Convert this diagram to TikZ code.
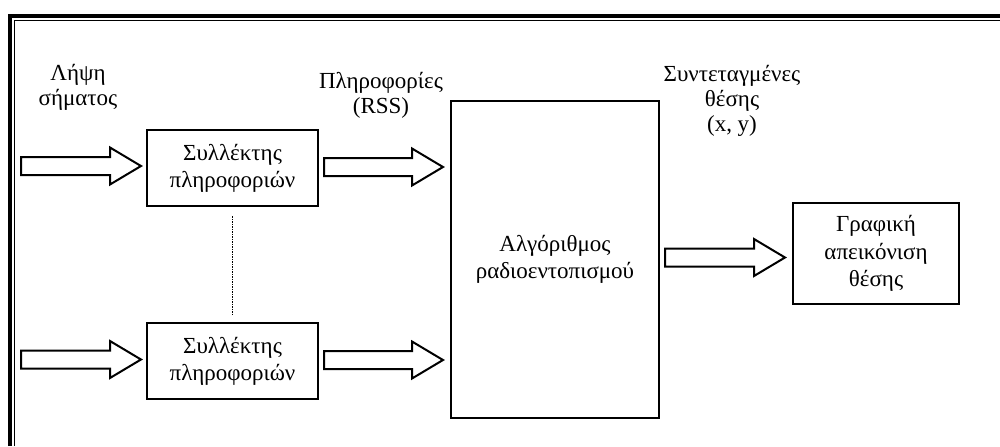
\documentclass[tikz,border=0pt]{standalone}
\usepackage{fontspec}
\setmainfont{Liberation Serif}
\usetikzlibrary{calc}
\tikzset{
  box/.style={draw, line width=1pt, align=center, inner sep=0pt,
    font=\fontsize{11.5pt}{13.6pt}\selectfont},
  lbl/.style={align=center, inner sep=0pt,
    font=\fontsize{11.5pt}{12.4pt}\selectfont},
  barrow/.style={draw, line width=1pt, fill=white, line join=miter},
  dotline/.style={line width=0.8pt, dash pattern=on 0.75pt off 0.5pt},
  frameouter/.style={line width=2.25pt, line join=miter},
  frameinner/.style={line width=0.6pt, line join=miter},
}
% hollow block arrow: from a start point to the x of a tip point, at the start's height
\newcommand\blockarrow[2]{%
  \path[barrow] let \p1=#1, \p2=#2 in
    (\x1,\y1+4.5pt) -- (\x2-15.5pt,\y1+4.5pt) -- (\x2-15.5pt,\y1+9.25pt)
    -- (\x2,\y1) -- (\x2-15.5pt,\y1-9.25pt) -- (\x2-15.5pt,\y1-4.5pt)
    -- (\x1,\y1-4.5pt) -- cycle;}
\begin{document}
\begin{tikzpicture}[x=0.5pt,y=-0.5pt]
\useasboundingbox (0,0) rectangle (1000,446);

% double frame on the top and left sides
\draw[frameouter] (10,446) -- (10,16) -- (1000,16);
\draw[frameinner] (14.5,446) -- (14.5,20.5) -- (1000,20.5);

% blocks
\node[box, minimum width=85.5pt, minimum height=38pt] (c1) at (232.5,168)
  {Συλλέκτης\\πληροφοριών};
\node[box, minimum width=85.5pt, minimum height=38pt] (c2) at (232.5,361)
  {Συλλέκτης\\πληροφοριών};
\node[box, minimum width=104pt, minimum height=158.5pt] (alg) at (555,259.5)
  {Αλγόριθμος\\ραδιοεντοπισμού};
\node[box, minimum width=83pt, minimum height=50.5pt] (gfx) at (876,253.5)
  {Γραφική\\απεικόνιση\\θέσης};

% labels
\node[lbl] (lrx) at (78,87) {Λήψη\\σήματος};
\node[lbl] (linfo) at (381,95) {Πληροφορίες\\(RSS)};
\node[lbl] (lpos) at (732,101) {Συντεταγμένες\\θέσης\\(x, y)};

% free ends of the incoming arrows
\coordinate (in1) at (21,166);
\coordinate (in2) at (21,359.5);

% connectors
\draw[dotline] ([yshift=-4.5pt]c1.south) -- ([yshift=4pt]c2.north);
\blockarrow{(in1)}{($(c1.west)+(-5,0)$)}
\blockarrow{(in2)}{($(c2.west)+(-5,0)$)}
\blockarrow{($(c1.east)+(5,-1)$)}{($(alg.west)+(-7,0)$)}
\blockarrow{($(c2.east)+(5,-1)$)}{($(alg.west)+(-7,0)$)}
\blockarrow{($(alg.east)+(5,-2)$)}{($(gfx.west)+(-7,0)$)}
\end{tikzpicture}
\end{document}
